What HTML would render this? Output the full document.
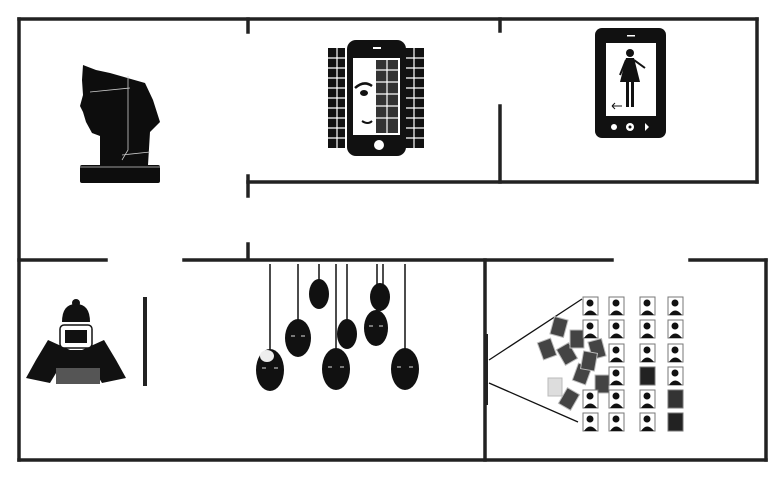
<!DOCTYPE html>
<html><head><meta charset="utf-8"><style>html,body{margin:0;padding:0;background:#fff}svg{display:block}</style></head>
<body>
<svg width="775" height="480" viewBox="0 0 775 480" xmlns="http://www.w3.org/2000/svg">
<rect width="775" height="480" fill="#fff"/>
<g stroke="#222" stroke-width="3.5" fill="none" stroke-linecap="square">
<line x1="19" y1="19" x2="757" y2="19"/>
<line x1="19" y1="19" x2="19" y2="460"/>
<line x1="757" y1="19" x2="757" y2="182"/>
<line x1="248" y1="19" x2="248" y2="32"/>
<line x1="248" y1="176" x2="248" y2="196"/>
<line x1="248" y1="244" x2="248" y2="259"/>
<line x1="248" y1="182" x2="757" y2="182"/>
<line x1="500" y1="19" x2="500" y2="31"/>
<line x1="500" y1="106" x2="500" y2="182"/>
<line x1="19" y1="260" x2="106" y2="260"/>
<line x1="184" y1="260" x2="612" y2="260"/>
<line x1="690" y1="260" x2="766" y2="260"/>
<line x1="766" y1="260" x2="766" y2="460"/>
<line x1="485" y1="260" x2="485" y2="460"/>
<line x1="19" y1="460" x2="766" y2="460"/>
<line x1="145" y1="299" x2="145" y2="384" stroke-width="4"/>
</g>
<line x1="487" y1="334" x2="487" y2="405" stroke="#222" stroke-width="2"/>
<!-- pharaoh -->
<g fill="#0d0d0d">
<path d="M83,65 L96,70 L110,73 L145,83 L153,100 L160,122 L150,132 L148,165 L100,165 L100,136 L92,133 L86,122 L83,112 L80,106 L83,95 L82,80 Z"/>
<rect x="80" y="165" width="80" height="18" rx="2"/>
</g>
<g stroke="#ccc" stroke-width="0.8" fill="none">
<path d="M90,92 L130,88"/><path d="M128,76 L128,150 L122,160"/><path d="M122,155 L150,152"/><path d="M80,167 L160,167"/>
</g>
<!-- center phone with icons -->
<g fill="#111">
<rect x="328" y="48" width="17" height="100"/>
<rect x="405" y="48" width="19" height="100"/>
</g>
<g stroke="#fff" stroke-width="1.2">
<line x1="337" y1="48" x2="337" y2="148"/><line x1="414" y1="48" x2="414" y2="148"/>
<line x1="328" y1="58" x2="345" y2="58"/><line x1="328" y1="68" x2="345" y2="68"/><line x1="328" y1="78" x2="345" y2="78"/><line x1="328" y1="88" x2="345" y2="88"/><line x1="328" y1="98" x2="345" y2="98"/><line x1="328" y1="108" x2="345" y2="108"/><line x1="328" y1="118" x2="345" y2="118"/><line x1="328" y1="128" x2="345" y2="128"/><line x1="328" y1="138" x2="345" y2="138"/>
<line x1="405" y1="58" x2="424" y2="58"/><line x1="405" y1="68" x2="424" y2="68"/><line x1="405" y1="78" x2="424" y2="78"/><line x1="405" y1="88" x2="424" y2="88"/><line x1="405" y1="98" x2="424" y2="98"/><line x1="405" y1="108" x2="424" y2="108"/><line x1="405" y1="118" x2="424" y2="118"/><line x1="405" y1="128" x2="424" y2="128"/><line x1="405" y1="138" x2="424" y2="138"/>
</g>
<rect x="347" y="40" width="59" height="116" rx="9" fill="#111"/>
<rect x="353" y="58" width="47" height="77" fill="#fff"/>
<rect x="376" y="60" width="22" height="73" fill="#333"/>
<g stroke="#fff" stroke-width="1.2"><line x1="387" y1="60" x2="387" y2="133"/><line x1="376" y1="70" x2="398" y2="70"/><line x1="376" y1="82" x2="398" y2="82"/><line x1="376" y1="94" x2="398" y2="94"/><line x1="376" y1="106" x2="398" y2="106"/><line x1="376" y1="118" x2="398" y2="118"/></g>
<path d="M355,88 Q364,80 372,86" stroke="#111" stroke-width="2.5" fill="none"/>
<ellipse cx="364" cy="93" rx="4" ry="3" fill="#111"/>
<path d="M362,121 Q368,125 372,121" stroke="#111" stroke-width="2" fill="none"/>
<circle cx="379" cy="145" r="5" fill="#fff"/>
<rect x="373" y="47" width="8" height="2" fill="#fff"/>
<!-- right phone -->
<rect x="595" y="28" width="71" height="110" rx="7" fill="#111"/>
<rect x="606" y="43" width="50" height="73" fill="#fff"/>
<rect x="627" y="35" width="8" height="1.5" fill="#fff"/>
<g fill="#111">
<circle cx="630" cy="53" r="4"/>
<path d="M626,58 L634,58 L640,82 L620,82 Z"/>
<rect x="626" y="81" width="3" height="26"/><rect x="631" y="81" width="3" height="26"/>
</g>
<path d="M634,60 L645,68 M626,60 L620,75" stroke="#111" stroke-width="2"/>
<path d="M612,106 L622,106 M612,106 L615,103 M612,106 L615,109" stroke="#111" stroke-width="1"/>
<circle cx="614" cy="127" r="3" fill="#fff"/><circle cx="630" cy="127" r="4" fill="#fff"/><circle cx="630" cy="127" r="1.5" fill="#111"/>
<path d="M645,123 L649,127 L645,131 Z" fill="#fff"/>
<!-- camera person -->
<g fill="#111">
<circle cx="76" cy="303" r="4"/>
<path d="M62,322 Q62,304 76,304 Q90,304 90,322 Z"/>
<path d="M48,340 L36,360 L26,378 L50,383 L70,350 Z"/>
<path d="M104,340 L116,360 L126,378 L102,383 L82,350 Z"/>
<rect x="58" y="350" width="40" height="20"/>
</g>
<rect x="56" y="368" width="44" height="16" fill="#555"/>
<rect x="60" y="325" width="32" height="23" rx="4" fill="#fff" stroke="#111" stroke-width="1.5"/>
<rect x="65" y="330" width="22" height="13" fill="#111"/>
<!-- hanging heads -->
<g stroke="#111" stroke-width="1.5">
<line x1="270" y1="264" x2="270" y2="352"/><line x1="298" y1="264" x2="298" y2="320"/><line x1="319" y1="264" x2="319" y2="282"/><line x1="336" y1="264" x2="336" y2="350"/><line x1="347" y1="264" x2="347" y2="320"/><line x1="377" y1="264" x2="377" y2="312"/><line x1="383" y1="264" x2="383" y2="284"/><line x1="405" y1="264" x2="405" y2="350"/>
</g>
<g fill="#111">
<ellipse cx="270" cy="370" rx="14" ry="21"/><ellipse cx="298" cy="338" rx="13" ry="19"/><ellipse cx="319" cy="294" rx="10" ry="15"/><ellipse cx="336" cy="369" rx="14" ry="21"/><ellipse cx="347" cy="334" rx="10" ry="15"/><ellipse cx="380" cy="297" rx="10" ry="14"/><ellipse cx="376" cy="328" rx="12" ry="18"/><ellipse cx="405" cy="369" rx="14" ry="21"/>
</g>
<ellipse cx="267" cy="356" rx="7" ry="6" fill="#eee"/>
<g stroke="#ddd" stroke-width="1">
<path d="M262,368 h4 M274,368 h4 M291,336 h4 M301,336 h4 M328,367 h4 M340,367 h4 M397,367 h4 M409,367 h4 M369,326 h4 M379,326 h4"/>
</g>
<!-- projector lines -->
<g stroke="#111" stroke-width="1.3"><line x1="489" y1="360" x2="582" y2="299"/><line x1="489" y1="383" x2="578" y2="422"/></g>
<g fill="#444" stroke="#bbb" stroke-width="1">
<rect x="540" y="340" width="14" height="18" transform="rotate(-20 547 349)"/>
<rect x="552" y="318" width="14" height="18" transform="rotate(15 559 327)"/>
<rect x="560" y="345" width="14" height="18" transform="rotate(-30 567 354)"/>
<rect x="570" y="330" width="14" height="18"/>
<rect x="575" y="365" width="14" height="18" transform="rotate(20 582 374)"/>
<rect x="562" y="390" width="14" height="18" transform="rotate(30 569 399)"/>
<rect x="548" y="378" width="14" height="18" fill="#ddd"/>
<rect x="590" y="340" width="14" height="18" transform="rotate(-15 597 349)"/>
<rect x="595" y="375" width="14" height="18"/>
<rect x="582" y="352" width="14" height="18" transform="rotate(10 589 361)"/>
</g>
<g fill="#fff" stroke="#777" stroke-width="1">
<rect x="583" y="297" width="15" height="18"/><rect x="609" y="297" width="15" height="18"/><rect x="640" y="297" width="15" height="18"/><rect x="668" y="297" width="15" height="18"/>
<rect x="583" y="320" width="15" height="18"/><rect x="609" y="320" width="15" height="18"/><rect x="640" y="320" width="15" height="18"/><rect x="668" y="320" width="15" height="18"/>
<rect x="609" y="344" width="15" height="18"/><rect x="640" y="344" width="15" height="18"/><rect x="668" y="344" width="15" height="18"/>
<rect x="609" y="367" width="15" height="18"/><rect x="640" y="367" width="15" height="18" fill="#222"/><rect x="668" y="367" width="15" height="18"/>
<rect x="583" y="390" width="15" height="18"/><rect x="609" y="390" width="15" height="18"/><rect x="640" y="390" width="15" height="18"/><rect x="668" y="390" width="15" height="18" fill="#333"/>
<rect x="583" y="413" width="15" height="18"/><rect x="609" y="413" width="15" height="18"/><rect x="640" y="413" width="15" height="18"/><rect x="668" y="413" width="15" height="18" fill="#222"/>
</g>
<g fill="#111">
<circle cx="590" cy="303" r="3.5"/><path d="M584,315 Q590,306 597,315Z"/>
<circle cx="616" cy="303" r="3.5"/><path d="M610,315 Q616,306 623,315Z"/>
<circle cx="647" cy="303" r="3.5"/><path d="M641,315 Q647,306 654,315Z"/>
<circle cx="675" cy="303" r="3.5"/><path d="M669,315 Q675,306 682,315Z"/>
<circle cx="590" cy="326" r="3.5"/><path d="M584,338 Q590,329 597,338Z"/>
<circle cx="616" cy="326" r="3.5"/><path d="M610,338 Q616,329 623,338Z"/>
<circle cx="647" cy="326" r="3.5"/><path d="M641,338 Q647,329 654,338Z"/>
<circle cx="675" cy="326" r="3.5"/><path d="M669,338 Q675,329 682,338Z"/>
<circle cx="616" cy="350" r="3.5"/><path d="M610,362 Q616,353 623,362Z"/>
<circle cx="647" cy="350" r="3.5"/><path d="M641,362 Q647,353 654,362Z"/>
<circle cx="675" cy="350" r="3.5"/><path d="M669,362 Q675,353 682,362Z"/>
<circle cx="616" cy="373" r="3.5"/><path d="M610,385 Q616,376 623,385Z"/>
<circle cx="675" cy="373" r="3.5"/><path d="M669,385 Q675,376 682,385Z"/>
<circle cx="590" cy="396" r="3.5"/><path d="M584,408 Q590,399 597,408Z"/>
<circle cx="616" cy="396" r="3.5"/><path d="M610,408 Q616,399 623,408Z"/>
<circle cx="647" cy="396" r="3.5"/><path d="M641,408 Q647,399 654,408Z"/>
<circle cx="590" cy="419" r="3.5"/><path d="M584,431 Q590,422 597,431Z"/>
<circle cx="616" cy="419" r="3.5"/><path d="M610,431 Q616,422 623,431Z"/>
<circle cx="647" cy="419" r="3.5"/><path d="M641,431 Q647,422 654,431Z"/>
</g>
</svg>
</body></html>
